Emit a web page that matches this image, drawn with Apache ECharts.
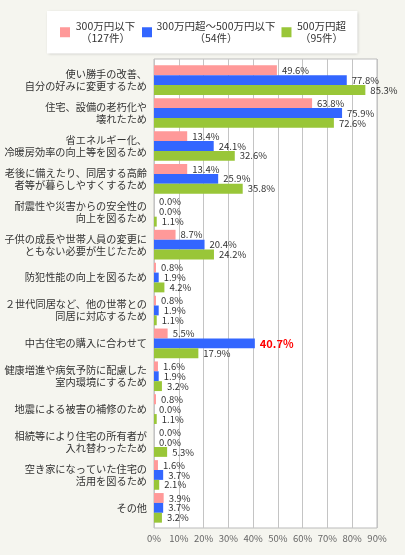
<!DOCTYPE html>
<html>
<head>
<meta charset="utf-8">
<script src="https://cdn.jsdelivr.net/npm/echarts@6/dist/echarts.min.js"></script>
<style>
  html, body { margin: 0; padding: 0; background: #f5f5ef; }
  #main { width: 405px; height: 555px; }
</style>
</head>
<body>
<div id="main"></div>
<script>
// 住宅リフォームの理由（世帯年収別）
const categories = [
    '使い勝手の改善、\n自分の好みに変更するため',
    '住宅、設備の老朽化や\n壊れたため',
    '省エネルギー化、\n冷暖房効率の向上等を図るため',
    '老後に備えたり、同居する高齢\n者等が暮らしやすくするため',
    '耐震性や災害からの安全性の\n向上を図るため',
    '子供の成長や世帯人員の変更に\nともない必要が生じたため',
    '防犯性能の向上を図るため',
    '２世代同居など、他の世帯との\n同居に対応するため',
    '中古住宅の購入に合わせて',
    '健康増進や病気予防に配慮した\n室内環境にするため',
    '地震による被害の補修のため',
    '相続等により住宅の所有者が\n入れ替わったため',
    '空き家になっていた住宅の\n活用を図るため',
    'その他'
];

const seriesNames = ['300万円以下', '300万円超～500万円以下', '500万円超'];
const seriesCounts = ['（127件）', '（54件）', '（95件）'];

const under300 = [49.6, 63.8, 13.4, 13.4, 0.0, 8.7, 0.8, 0.8, 5.5, 1.6, 0.8, 0.0, 1.6, 3.9];
const from300to500 = [77.8, 75.9, 24.1, 25.9, 0.0, 20.4, 1.9, 1.9, 40.7, 1.9, 0.0, 0.0, 3.7, 3.7];
const over500 = [85.3, 72.6, 32.6, 35.8, 1.1, 24.2, 4.2, 1.1, 17.9, 3.2, 1.1, 5.3, 2.1, 3.2];

const xTicks = [0, 10, 20, 30, 40, 50, 60, 70, 80, 90];

// 強調表示する値（300万円超～500万円以下の中古住宅）
const highlight = { series: 1, index: 8 };

const colors = ['#ff9999', '#3366ff', '#99c638'];
const legendWidths = [61, 118, 50];

let myChart = echarts.init(document.getElementById('main'));

function buildData(values, s) {
    return values.map(function (v, i) {
        if (s === highlight.series && i === highlight.index) {
            return {
                value: v,
                label: { color: '#ff0000', fontWeight: 'bold', fontSize: 11 }
            };
        }
        return v;
    });
}

const allValues = [under300, from300to500, over500];

const rich = {};
legendWidths.forEach(function (w, i) {
    rich['t' + i] = {
        width: w,
        align: 'center',
        fontSize: 10.5,
        lineHeight: 12,
        color: '#333'
    };
});

option = {
    backgroundColor: '#f5f5ef',
    color: colors,
    textStyle: {
        fontFamily: '"Noto Sans CJK JP", "Noto Sans", sans-serif'
    },
    animation: false,
    legend: {
        left: 47,
        top: 11,
        padding: [10, 11, 10, 13],
        itemGap: 6,
        itemWidth: 10,
        itemHeight: 10,
        icon: 'rect',
        selectedMode: false,
        backgroundColor: '#fff',
        shadowBlur: 3,
        shadowOffsetX: 1,
        shadowOffsetY: 1,
        shadowColor: 'rgba(0, 0, 0, 0.25)',
        data: seriesNames,
        formatter: function (name) {
            const i = seriesNames.indexOf(name);
            return '{t' + i + '|' + name + '}\n{t' + i + '|' + seriesCounts[i] + '}';
        },
        textStyle: {
            rich: rich
        }
    },
    grid: [
        {
            left: 154,
            right: 28,
            top: 59,
            bottom: 27,
            outerBoundsMode: 'none',
            show: true,
            backgroundColor: '#fff',
            borderColor: '#bbbbbb',
            borderWidth: 1
        },
        {
            left: 154,
            right: 28,
            top: 63.7,
            height: 460.6,
            outerBoundsMode: 'none'
        }
    ],
    xAxis: [
        {
            gridIndex: 0,
            type: 'value',
            min: xTicks[0],
            max: xTicks[xTicks.length - 1],
            interval: 10,
            axisLine: { show: false },
            axisTick: { show: false },
            axisLabel: {
                formatter: '{value}%',
                fontSize: 9.5,
                color: '#666',
                margin: 6
            },
            splitLine: {
                lineStyle: { color: '#c4c4c4', width: 1 }
            }
        },
        {
            gridIndex: 1,
            type: 'value',
            min: xTicks[0],
            max: xTicks[xTicks.length - 1],
            show: false
        }
    ],
    yAxis: [
        {
            gridIndex: 0,
            type: 'value',
            show: false
        },
        {
            gridIndex: 1,
            type: 'category',
            inverse: true,
            data: categories,
            axisLine: { show: false },
            axisTick: { show: false },
            axisLabel: {
                fontSize: 10.2,
                lineHeight: 12,
                color: '#333',
                margin: 7,
                align: 'right'
            }
        }
    ],
    series: allValues.map(function (vals, s) {
        return {
            name: seriesNames[s],
            type: 'bar',
            xAxisIndex: 1,
            yAxisIndex: 1,
            barGap: 0,
            barCategoryGap: '10%',
            data: buildData(vals, s),
            label: {
                show: true,
                position: 'right',
                distance: 5,
                fontSize: 9.5,
                color: '#333',
                formatter: function (p) {
                    return p.value.toFixed(1) + '%';
                }
            }
        };
    })
};

myChart.setOption(option);
</script>
</body>
</html>
